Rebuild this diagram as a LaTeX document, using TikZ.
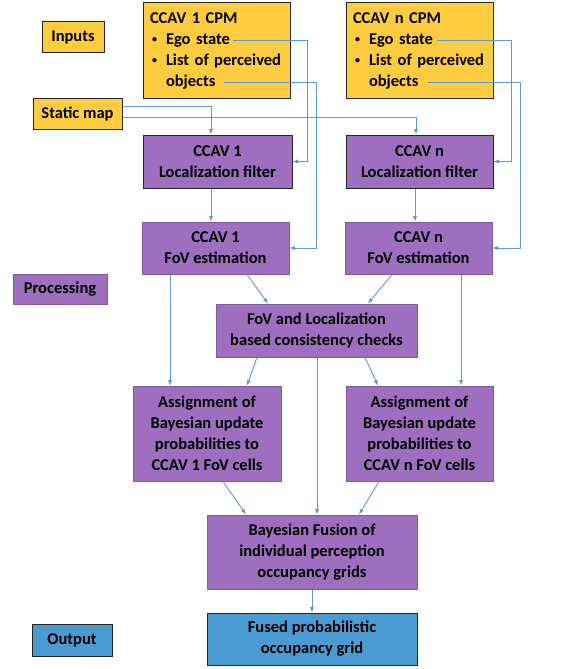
\documentclass[tikz,border=0pt]{standalone}
\usepackage{fontspec}
\setmainfont{Carlito}
\usepackage{xcolor}
\usepackage{tikz}
\usetikzlibrary{positioning}

\definecolor{inyellow}{HTML}{FFCC40}
\definecolor{procpurple}{HTML}{9D6FBE}
\definecolor{procedge}{HTML}{7E5A9F}
\definecolor{outblue}{HTML}{4A9BD2}
\definecolor{linkblue}{HTML}{5B9BD5}
\definecolor{darkedge}{HTML}{262626}

\newcommand{\cpmbullet}{\hspace*{2pt}\makebox[14pt][l]{\raisebox{1.5pt}{\fontsize{10}{10}\selectfont\textbullet}}}

\tikzset{
  box/.style={draw, line width=1pt, align=center, inner sep=0pt,
              font=\bfseries\fontsize{16.5}{21}\selectfont},
  inbox/.style={box, fill=inyellow, draw=darkedge},
  procbox/.style={box, fill=procpurple, draw=procedge},
  filterbox/.style={box, fill=procpurple, draw=darkedge},
  outbox/.style={box, fill=outblue, draw=darkedge},
  link/.style={->, >=latex, draw=linkblue, line width=0.9pt}
}

\begin{document}
\begin{tikzpicture}[x=1pt, y=-1pt]
    \useasboundingbox (0,0) rectangle (563,669);

    % Legend
    \node[inbox, minimum width=62pt, minimum height=31pt] (inputs) at (73,37) {Inputs};
    \node[procbox, minimum width=94pt, minimum height=30pt] (proc) at (60,289) {Processing};
    \node[outbox, minimum width=80pt, minimum height=32pt] (output) at (72,640) {Output};

    % Inputs
    \node[inbox, minimum width=89pt, minimum height=31pt] (static) at (77.5,113.5) {Static map};
    \node[inbox, align=left, text width=133pt, minimum height=95pt, inner xsep=7pt] (cpm1) at (216.5,50.5)
        {CCAV 1 CPM\\
         \cpmbullet Ego state\\
         \cpmbullet List of perceived\\
         \hspace*{16pt}objects};
    \node[inbox, align=left, text width=133pt, minimum height=95pt, inner xsep=7pt] (cpmn) at (419.5,50.5)
        {CCAV n CPM\\
         \cpmbullet Ego state\\
         \cpmbullet List of perceived\\
         \hspace*{16pt}objects};
    \coordinate (ego1) at (233,40);
    \coordinate (obj1) at (224,82);
    \coordinate (egon) at (437,40);
    \coordinate (objn) at (428,82);

    % Per-vehicle processing
    \node[filterbox, minimum width=149pt, minimum height=53pt] (loc1) at (217.5,161.5) {CCAV 1\\Localization filter};
    \node[filterbox, minimum width=147pt, minimum height=53pt] (locn) at (419.5,161.5) {CCAV n\\Localization filter};
    \node[procbox, minimum width=147pt, minimum height=52pt] (fov1) at (215.5,248) {CCAV 1\\FoV estimation};
    \node[procbox, minimum width=147pt, minimum height=52pt] (fovn) at (418.5,248) {CCAV n\\FoV estimation};
    \node[procbox, minimum width=201pt, minimum height=53pt] (check) at (316.5,330.5) {FoV and Localization\\based consistency checks};
    \node[procbox, minimum width=148pt, minimum height=95pt] (assign1) at (207,433.5)
        {Assignment of\\Bayesian update\\probabilities to\\CCAV 1 FoV cells};
    \node[procbox, minimum width=147pt, minimum height=95pt] (assignn) at (419.5,433.5)
        {Assignment of\\Bayesian update\\probabilities to\\CCAV n FoV cells};

    % Fusion and output
    \node[procbox, minimum width=210pt, minimum height=74pt] (fusion) at (312,552)
        {Bayesian Fusion of\\individual perception\\occupancy grids};
    \node[outbox, minimum width=210pt, minimum height=52pt] (fused) at (312,639)
        {Fused probabilistic\\occupancy grid};

    % Input links
    \draw[link] ([yshift=7.5]static.east) -| ([xshift=-6.5]loc1.north);
    \draw[link] ([yshift=-3.5]static.east) -| ([xshift=-3.5]locn.north);
    \draw[link] (ego1) -| ([xshift=15]loc1.east) -- (loc1.east);
    \draw[link] (obj1) -| ([xshift=27]fov1.east) -- (fov1.east);
    \draw[link] (egon) -| ([xshift=18]locn.east) -- (locn.east);
    \draw[link] (objn) -| ([xshift=28]fovn.east) -- (fovn.east);

    % Processing links
    \draw[link] ([xshift=-6.5]loc1.south) -- ([xshift=-6.5]loc1.south |- fov1.north);
    \draw[link] ([xshift=-4.5]locn.south) -- ([xshift=-4.5]locn.south |- fovn.north);
    \draw[link] ([xshift=-45.5]fov1.south) -- ([xshift=-45.5]fov1.south |- assign1.north);
    \draw[link] ([xshift=31.5]fov1.south) -- ([xshift=-48.5]check.north);
    \draw[link] ([xshift=-26.5]fovn.south) -- ([xshift=51.5]check.north);
    \draw[link] ([xshift=42.5]fovn.south) -- ([xshift=42.5]fovn.south |- assignn.north);
    \draw[link] ([xshift=-59.5]check.south) -- ([xshift=40]assign1.north);
    \draw[link] ([xshift=48.5]check.south) -- ([xshift=-41.5]assignn.north);
    \draw[link] ([xshift=0.5]check.south) -- ([xshift=0.5]check.south |- fusion.north);
    \draw[link] ([xshift=16]assign1.south) -- ([xshift=-66]fusion.north);
    \draw[link] ([xshift=-40.5]assignn.south) -- ([xshift=47]fusion.north);
    \draw[link] (fusion) -- (fused);
\end{tikzpicture}
\end{document}
